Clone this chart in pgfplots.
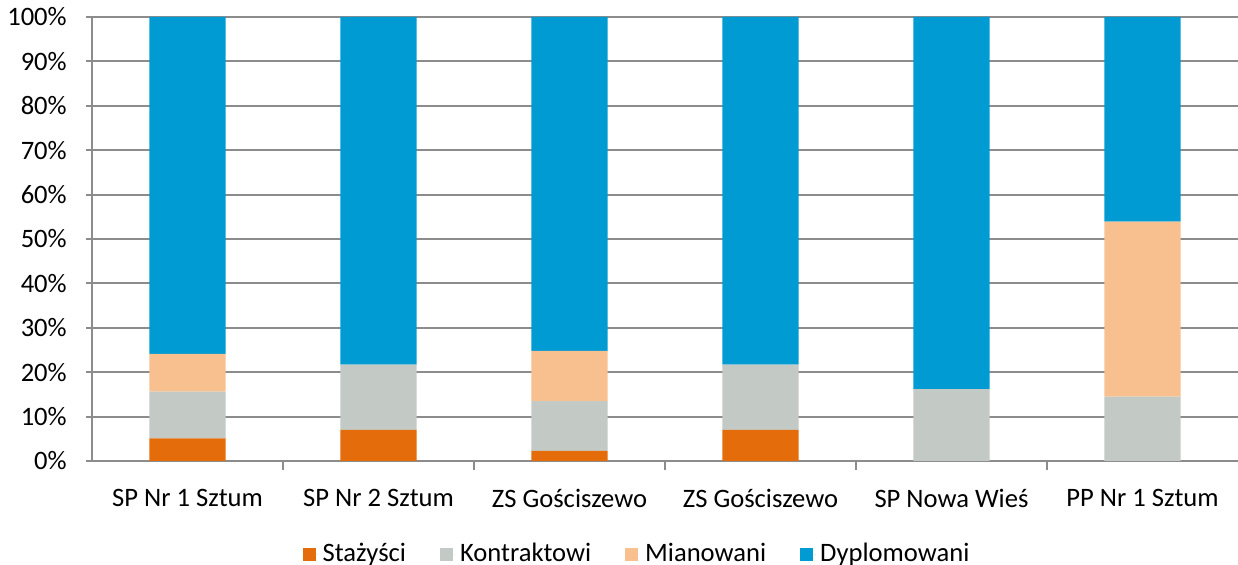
\documentclass[border=0pt]{standalone}
\usepackage{pgfplots}
\pgfplotsset{compat=1.18}
\usepackage{fontspec}
\setmainfont{Carlito}

\definecolor{cStaz}{HTML}{E46C0A}
\definecolor{cKontr}{HTML}{C3CAC5}
\definecolor{cMian}{HTML}{F9C08F}
\definecolor{cDypl}{HTML}{009BD3}
\definecolor{gridgray}{HTML}{8C8C8C}

\begin{document}
\fontsize{13.3pt}{16pt}\selectfont
\begin{tikzpicture}
  \useasboundingbox (-46pt,-52pt) rectangle (573pt,230.5pt);
  \begin{axis}[%
    ,at={(0,0)},anchor=south west
    ,scale only axis,width=573pt,height=222pt
    ,ybar stacked,bar width=0.4
    ,xmin=-0.5,xmax=5.5,ymin=0,ymax=100
    ,axis x line*=bottom,axis y line*=left
    ,axis line style={draw=gridgray,line width=1pt,-}
    ,ymajorgrids,grid style={gridgray,line width=1pt}
    ,ytick={0,10,...,100}
    ,yticklabels={0\%,10\%,20\%,30\%,40\%,50\%,60\%,70\%,80\%,90\%,100\%}
    ,xtick={0,1,2,3,4,5}
    ,xticklabels={SP Nr 1 Sztum,SP Nr 2 Sztum,ZS Gościszewo,ZS Gościszewo,SP Nowa Wieś,PP Nr 1 Sztum}
    ,xtick style={draw=none}
    ,ytick style={draw=gridgray,line width=1pt}
    ,extra x ticks={0.5,1.5,2.5,3.5,4.5}
    ,extra x tick labels={}
    ,extra x tick style={xtick style={draw=gridgray,line width=1pt},major tick length=4.5pt}
    ,tick align=outside,major tick length=3pt
    ,x tick label style={yshift=-6.5pt}
    ,y tick label style={xshift=-5pt}
    ,legend style={at={(0.4765,-0.21)},anchor=center,legend columns=4,draw=none,fill=none,
       /tikz/every even column/.append style={column sep=15pt}}
    ,legend image code/.code={\fill[#1] (0pt,-3.25pt) rectangle (6.5pt,3.25pt);
       \path (0pt,0pt) -- (8pt,0pt);}
    ]
    \addplot[fill=cStaz,draw=none] coordinates {(0,5.1) (1,7.0) (2,2.3) (3,7.0) (4,0) (5,0)};
    \addplot[fill=cKontr,draw=none] coordinates {(0,10.5) (1,14.7) (2,11.2) (3,14.7) (4,16.2) (5,14.5)};
    \addplot[fill=cMian,draw=none] coordinates {(0,8.5) (1,0) (2,11.3) (3,0) (4,0) (5,39.4)};
    \addplot[fill=cDypl,draw=none] coordinates {(0,75.9) (1,78.3) (2,75.2) (3,78.3) (4,83.8) (5,46.1)};
    \legend{Stażyści,Kontraktowi,Mianowani,Dyplomowani}
  \end{axis}
\end{tikzpicture}
\end{document}
